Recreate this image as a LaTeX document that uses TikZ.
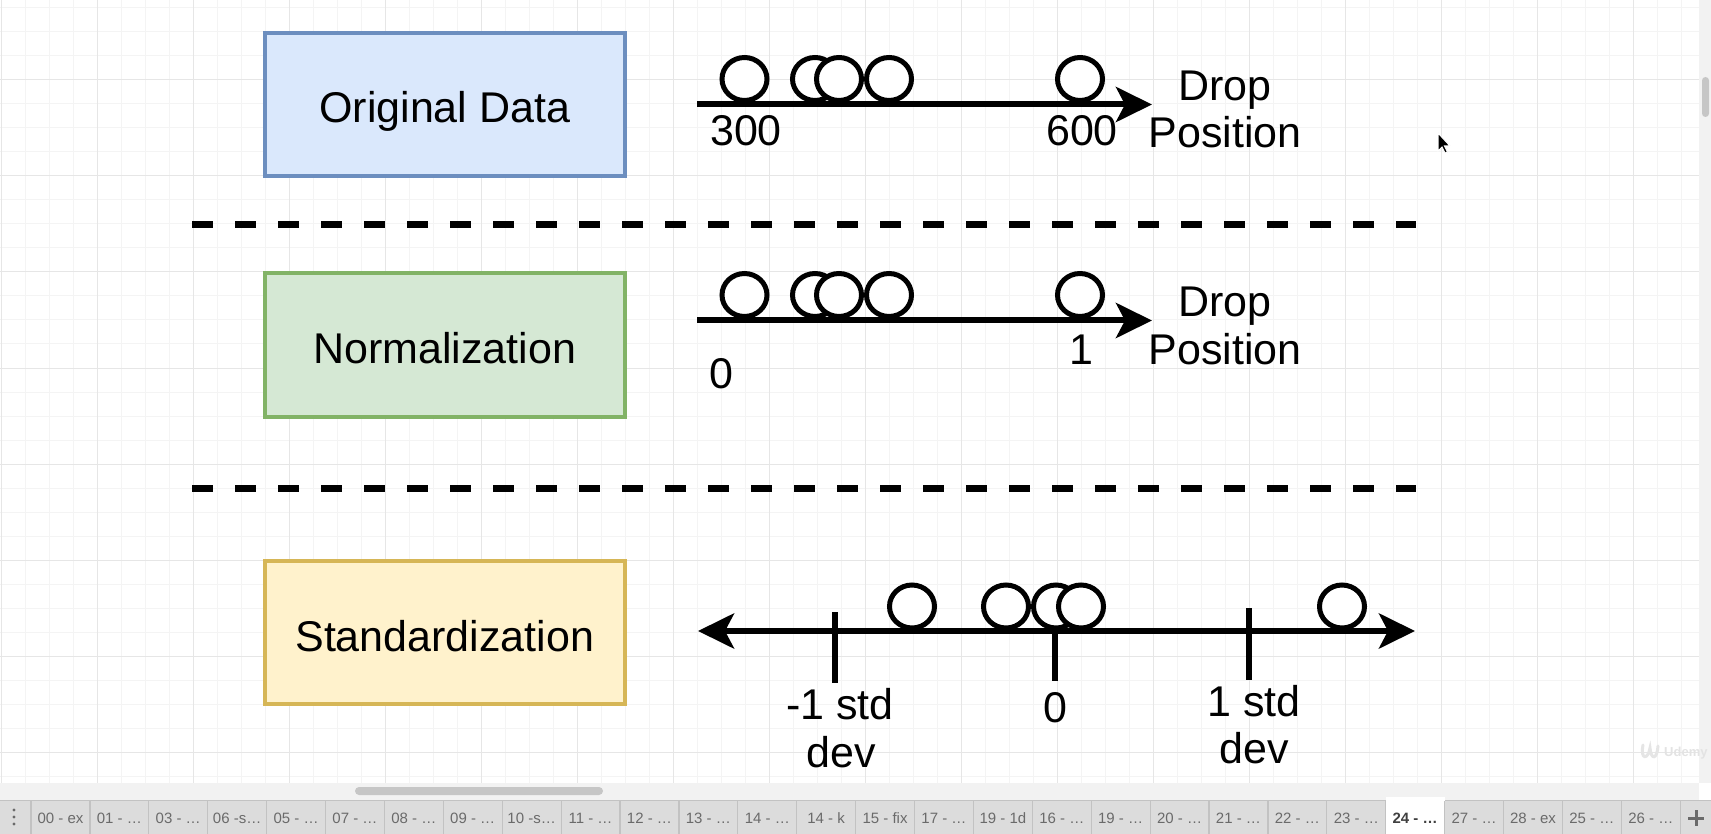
\documentclass[tikz,border=0pt]{standalone}
\usepackage{fontspec}
\setmainfont{Liberation Sans}
\usetikzlibrary{arrows.meta,shapes.geometric}
\definecolor{bluefill}{HTML}{DAE8FC}\definecolor{bluedraw}{HTML}{6C8EBF}
\definecolor{greenfill}{HTML}{D5E8D4}\definecolor{greendraw}{HTML}{82B366}
\definecolor{yellowfill}{HTML}{FFF2CC}\definecolor{yellowdraw}{HTML}{D6B656}
\definecolor{gridminor}{HTML}{F4F4F4}\definecolor{gridmajor}{HTML}{E6E6E6}
\definecolor{barbg}{HTML}{F2F2F2}\definecolor{thumb}{HTML}{C6C6C6}
\definecolor{tabbg}{HTML}{DCDCDC}\definecolor{tabsep}{HTML}{C2C2C2}
\definecolor{tabtext}{HTML}{6A6A6A}
\newcommand\lblfont{\fontsize{43}{49}\selectfont}
\tikzset{
  stagebox/.style={draw, line width=4pt, minimum width=359.5pt, minimum height=143pt, inner sep=0pt, font=\lblfont, text height=37pt, text depth=0pt},
  dot/.style={draw, ellipse, fill=white, line width=5pt, minimum width=45pt, minimum height=43pt, inner sep=0pt},
  axis/.style={line width=6pt},
  tip/.tip={Stealth[length=36pt,width=35pt,inset=9pt]},
  tick/.style={line width=6pt},
  sep/.style={line width=7pt, dash pattern=on 21pt off 22pt},
  lbl/.style={font=\lblfont, anchor=base, inner sep=0pt},
  tabtxt/.style={font=\fontsize{15}{17}\selectfont, text=tabtext, inner sep=0pt},
}
\begin{document}
\begin{tikzpicture}[x=1pt,y=-1pt]
\useasboundingbox (0,0) rectangle (1711,834);
\fill[white] (0,0) rectangle (1711,834);
% grid
\foreach \x in {1,25,...,1681} \draw[gridminor, line width=1pt] (\x,0) -- (\x,783);
\foreach \y in {8,32,...,776} \draw[gridminor, line width=1pt] (0,\y) -- (1699,\y);
\foreach \x in {1,97,...,1633} \draw[gridmajor, line width=1pt] (\x,0) -- (\x,783);
\foreach \y in {80,176,...,752} \draw[gridmajor, line width=1pt] (0,\y) -- (1699,\y);

% boxes
\node[stagebox, fill=bluefill, draw=bluedraw] (orig) at (444.75,104.5) {Original Data};
\node[stagebox, fill=greenfill, draw=greendraw] (norm) at (444.75,345) {Normalization};
\node[stagebox, fill=yellowfill, draw=yellowdraw] (stand) at (444.75,632.5) {Standardization};

% separators
\coordinate (s1a) at (192,224.5); \coordinate (s1b) at (1416,224.5);
\coordinate (s2a) at (192,488); \coordinate (s2b) at (1416,488);
\draw[sep] (s1a) -- (s1b);
\draw[sep] (s2a) -- (s2b);

% original data axis
\coordinate (a1s) at (697,104.5); \coordinate (a1e) at (1152,104.5);
\draw[axis, -tip] (a1s) -- (a1e);
\node[dot] (o1) at (744.5,79) {};
\node[dot] (o2) at (815,79) {};
\node[dot] (o3) at (839,79) {};
\node[dot] (o4) at (889,79) {};
\node[dot] (o5) at (1080,79) {};
\node[lbl] (l300) at (746,146) {300};
\node[lbl] (l600) at (1082,146) {600};
\node[lbl] (drop1) at (1225,101) {Drop};
\node[lbl] (pos1) at (1225,148) {Position};

% normalization axis
\coordinate (a2s) at (697,320.5); \coordinate (a2e) at (1152,320.5);
\draw[axis, -tip] (a2s) -- (a2e);
\node[dot] (n1) at (744.5,295) {};
\node[dot] (n2) at (815,295) {};
\node[dot] (n3) at (839,295) {};
\node[dot] (n4) at (889,295) {};
\node[dot] (n5) at (1080,295) {};
\node[lbl] (l0) at (721,388) {0};
\node[lbl] (l1) at (1081,364) {1};
\node[lbl] (drop2) at (1225,317) {Drop};
\node[lbl] (pos2) at (1225,364) {Position};

% standardization axis
\coordinate (a3s) at (698,631); \coordinate (a3e) at (1415,631);
\draw[axis, tip-tip] (a3s) -- (a3e);
\coordinate (t1a) at (835,612); \coordinate (t1b) at (835,683);
\coordinate (t2a) at (1055,631); \coordinate (t2b) at (1055,681);
\coordinate (t3a) at (1249,608); \coordinate (t3b) at (1249,680);
\draw[tick] (t1a) -- (t1b);
\draw[tick] (t2a) -- (t2b);
\draw[tick] (t3a) -- (t3b);
\node[dot] (z1) at (912,606.5) {};
\node[dot] (z2) at (1006,606.5) {};
\node[dot] (z3) at (1056,606.5) {};
\node[dot] (z4) at (1081,606.5) {};
\node[dot] (z5) at (1342,606.5) {};
\node[lbl] (m1a) at (840,719) {-1 std};
\node[lbl] (m1b) at (841,767) {dev};
\node[lbl] (zero) at (1055,722) {0};
\node[lbl] (p1a) at (1254,716) {1 std};
\node[lbl] (p1b) at (1254,763) {dev};

% cursor
\filldraw[fill=black, draw=white, line width=1pt] (1438,133) -- (1438,151) -- (1442,147) -- (1445,153) -- (1447.5,152) -- (1444.5,146) -- (1450,146) -- cycle;

% scrollbars
\fill[barbg] (1699,0) rectangle (1711,783);
\fill[thumb, rounded corners=3.5pt] (1702,77) rectangle (1709,117);
\fill[barbg] (0,783) rectangle (1699,800);
\fill[thumb, rounded corners=4pt] (355,787) rectangle (603,795);

% udemy mark
\draw[white!80!gray, line width=3pt, line cap=round] (1643,745) .. controls (1640,760) and (1648,760) .. (1650,748) .. controls (1651,760) and (1657,760) .. (1658,746);
\node[font=\bfseries\fontsize{13}{14}\selectfont, text=white!78!gray, inner sep=0pt, anchor=west] (udemy) at (1664,753) {Udemy};

% tab bar
\fill[tabbg] (0,800) rectangle (1711,834);
\draw[tabsep, line width=1pt] (0,800.5) -- (1711,800.5);
\fill[white] (1385.7,797) rectangle (1444.6,834);
\foreach \i in {0,...,28} \draw[tabsep, line width=1.2pt] ({31+58.9*\i},801) -- ({31+58.9*\i},834);
\foreach \t [count=\i from 0] in {00 - ex,01 - …,03 - …,06 -s…,05 - …,07 - …,08 - …,09 - …,10 -s…,11 - …,12 - …,13 - …,14 - …,14 - k,15 - fix,17 - …,19 - 1d,16 - …,19 - …,20 - …,21 - …,22 - …,23 - …}
  \node[tabtxt] (tab\i) at ({60.45+58.9*\i},818) {\t};
\node[tabtxt, font=\bfseries\fontsize{15}{17}\selectfont, text=black!75] (tab23) at ({60.45+58.9*23},818) {24 - …};
\foreach \t [count=\i from 24] in {27 - …,28 - ex,25 - …,26 - …}
  \node[tabtxt] (tab\i) at ({60.45+58.9*\i},818) {\t};
\foreach \yy in {810,817,824} \fill[tabtext] (14,\yy) circle (1.6pt);
\coordinate (pl1) at (1688,818); \coordinate (pl2) at (1704,818);
\coordinate (pl3) at (1696,810); \coordinate (pl4) at (1696,826);
\draw[tabtext, line width=3pt] (pl1) -- (pl2);
\draw[tabtext, line width=3pt] (pl3) -- (pl4);
\end{tikzpicture}
\end{document}
